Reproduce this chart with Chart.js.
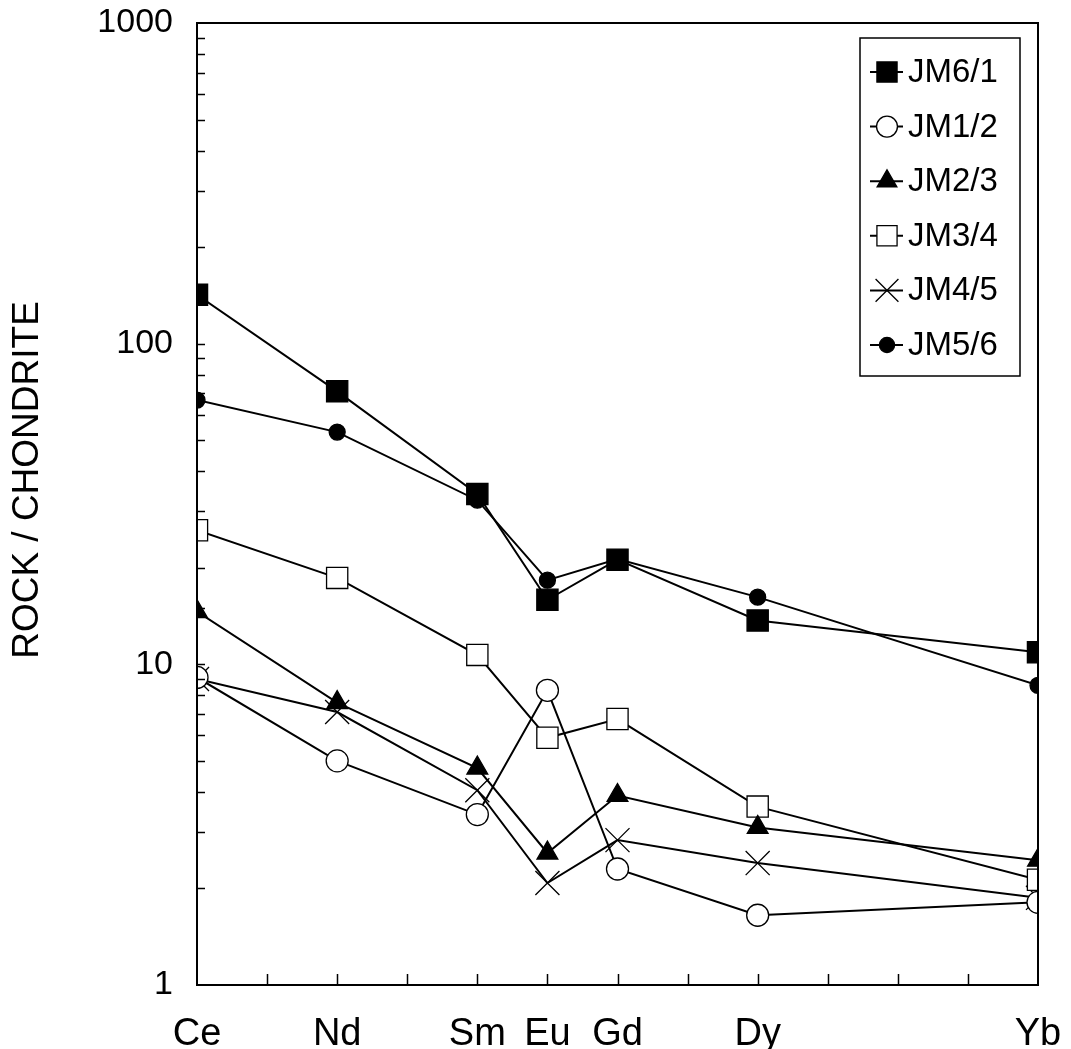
<!DOCTYPE html>
<html>
<head>
<meta charset="utf-8">
<script src="https://cdn.jsdelivr.net/npm/chart.js@4/dist/chart.umd.min.js"></script>
<style>
  html, body { margin: 0; padding: 0; background: #fff; }
  #wrap { width: 1071px; height: 1049px; }
</style>
</head>
<body>
<div id="wrap"><canvas id="reeChart" width="1071" height="1049"></canvas></div>
<script>
// REE (chondrite normalised)
const elements = ['Ce', 'Nd', 'Sm', 'Eu', 'Gd', 'Dy', 'Yb'];
const atomicNumbers = [58, 60, 62, 63, 64, 66, 70];
const sampleNames = ['JM6/1', 'JM1/2', 'JM2/3', 'JM3/4', 'JM4/5', 'JM5/6'];
const jm61 = [142, 71, 34, 15.9, 21.2, 13.7, 10.9];
const jm12 = [9.1, 5.0, 3.4, 8.3, 2.3, 1.65, 1.81];
const jm23 = [14.6, 7.6, 4.75, 2.58, 3.9, 3.1, 2.45];
const jm34 = [26.2, 18.6, 10.7, 5.9, 6.75, 3.6, 2.13];
const jm45 = [9.0, 7.1, 4.05, 2.08, 2.83, 2.4, 1.87];
const jm56 = [66.7, 53, 32.5, 18.3, 21.3, 16.2, 8.6];
const yTickLabels = [1, 10, 100, 1000];
const yTitle = 'ROCK / CHONDRITE';

const seriesValues = [jm61, jm12, jm23, jm34, jm45, jm56];
const markers = [
  { style: 'rect', r: 15, fill: '#000' },
  { style: 'circle', r: 11, fill: '#fff' },
  { style: 'triangle', r: 12, fill: '#000' },
  { style: 'rect', r: 15, fill: '#fff' },
  { style: 'crossRot', r: 17, fill: '#fff' },
  { style: 'circle', r: 8, fill: '#000' }
];
const FONT = '"Liberation Sans", Arial, sans-serif';

const datasets = sampleNames.map((name, i) => ({
  label: name,
  data: atomicNumbers.map((z, j) => ({ x: z, y: seriesValues[i][j] })),
  borderColor: '#000',
  borderWidth: 2,
  backgroundColor: markers[i].fill,
  pointStyle: markers[i].style,
  pointRadius: markers[i].r,
  pointBorderColor: '#000',
  pointBackgroundColor: markers[i].fill,
  pointBorderWidth: 1.3,
  tension: 0
}));

// frame, inward tick marks, axis title, boxed legend
const decorations = {
  id: 'decorations',
  afterDatasetsDraw(chart) {
    const ctx = chart.ctx;
    const a = chart.chartArea;
    const xs = chart.scales.x, ys = chart.scales.y;
    ctx.save();
    ctx.strokeStyle = '#000';
    ctx.lineWidth = 2;
    ctx.strokeRect(a.left, a.top, a.right - a.left, a.bottom - a.top);

    ctx.lineWidth = 1.5;
    ctx.beginPath();
    xs.ticks.forEach(t => {
      if (t.value <= xs.min || t.value >= xs.max) return;
      const px = Math.round(xs.getPixelForValue(t.value)) + 0.5;
      ctx.moveTo(px, a.bottom);
      ctx.lineTo(px, a.bottom - 11);
    });
    ys.ticks.forEach(t => {
      if (t.value <= ys.min || t.value >= ys.max) return;
      const py = Math.round(ys.getPixelForValue(t.value)) + 0.5;
      ctx.moveTo(a.left, py);
      ctx.lineTo(a.left + 8, py);
    });
    ctx.stroke();

    // y title
    ctx.save();
    ctx.translate(28, 480);
    ctx.rotate(-Math.PI / 2);
    ctx.fillStyle = '#000';
    ctx.font = '37px ' + FONT;
    ctx.textAlign = 'center';
    ctx.textBaseline = 'middle';
    ctx.fillText(yTitle, 0, 0);
    ctx.restore();

    // legend
    const lx = 860, ly = 38, lw = 160, lh = 338, rowH = 54.6;
    ctx.fillStyle = '#fff';
    ctx.fillRect(lx, ly, lw, lh);
    ctx.lineWidth = 1.5;
    ctx.strokeRect(lx, ly, lw, lh);
    ctx.font = '33px ' + FONT;
    ctx.textBaseline = 'middle';
    sampleNames.forEach((name, i) => {
      const cy = 72 + i * rowH;
      ctx.strokeStyle = '#000';
      ctx.lineWidth = 2;
      ctx.beginPath();
      ctx.moveTo(lx + 10, cy);
      ctx.lineTo(lx + 43, cy);
      ctx.stroke();
      ctx.fillStyle = markers[i].fill;
      ctx.lineWidth = 1.3;
      Chart.helpers.drawPoint(ctx, {
        pointStyle: markers[i].style,
        radius: markers[i].r * 0.95,
        rotation: 0,
        borderWidth: 1.3
      }, lx + 27, cy);
      ctx.fillStyle = '#000';
      ctx.fillText(name, lx + 48, cy + 1);
    });
    ctx.restore();
  }
};

new Chart(document.getElementById('reeChart').getContext('2d'), {
  type: 'line',
  data: { datasets: datasets },
  options: {
    responsive: false,
    animation: false,
    layout: { padding: { top: 23, right: 33, left: 0, bottom: 0 } },
    plugins: { legend: { display: false }, tooltip: { enabled: false } },
    scales: {
      x: {
        type: 'linear',
        min: 58,
        max: 70,
        grid: { display: false, drawTicks: false },
        border: { display: false },
        afterFit(scale) {
          scale.height = 64;
          scale.paddingLeft = 0;
          scale.paddingRight = 0;
        },
        ticks: {
          stepSize: 1,
          autoSkip: false,
          maxRotation: 0,
          padding: 27,
          color: '#000',
          font: { family: FONT, size: 38 },
          callback(v) {
            const k = atomicNumbers.indexOf(v);
            return k >= 0 ? elements[k] : '';
          }
        }
      },
      y: {
        type: 'logarithmic',
        min: 1,
        max: 1000,
        grid: { display: false, drawTicks: false },
        border: { display: false },
        afterFit(scale) {
          scale.width = 197;
          scale.paddingTop = 0;
          scale.paddingBottom = 0;
        },
        ticks: {
          autoSkip: false,
          padding: 24,
          color: '#000',
          font: { family: FONT, size: 34 },
          callback(v) {
            return yTickLabels.includes(v) ? String(v) : '';
          }
        }
      }
    }
  },
  plugins: [decorations]
});
</script>
</body>
</html>
